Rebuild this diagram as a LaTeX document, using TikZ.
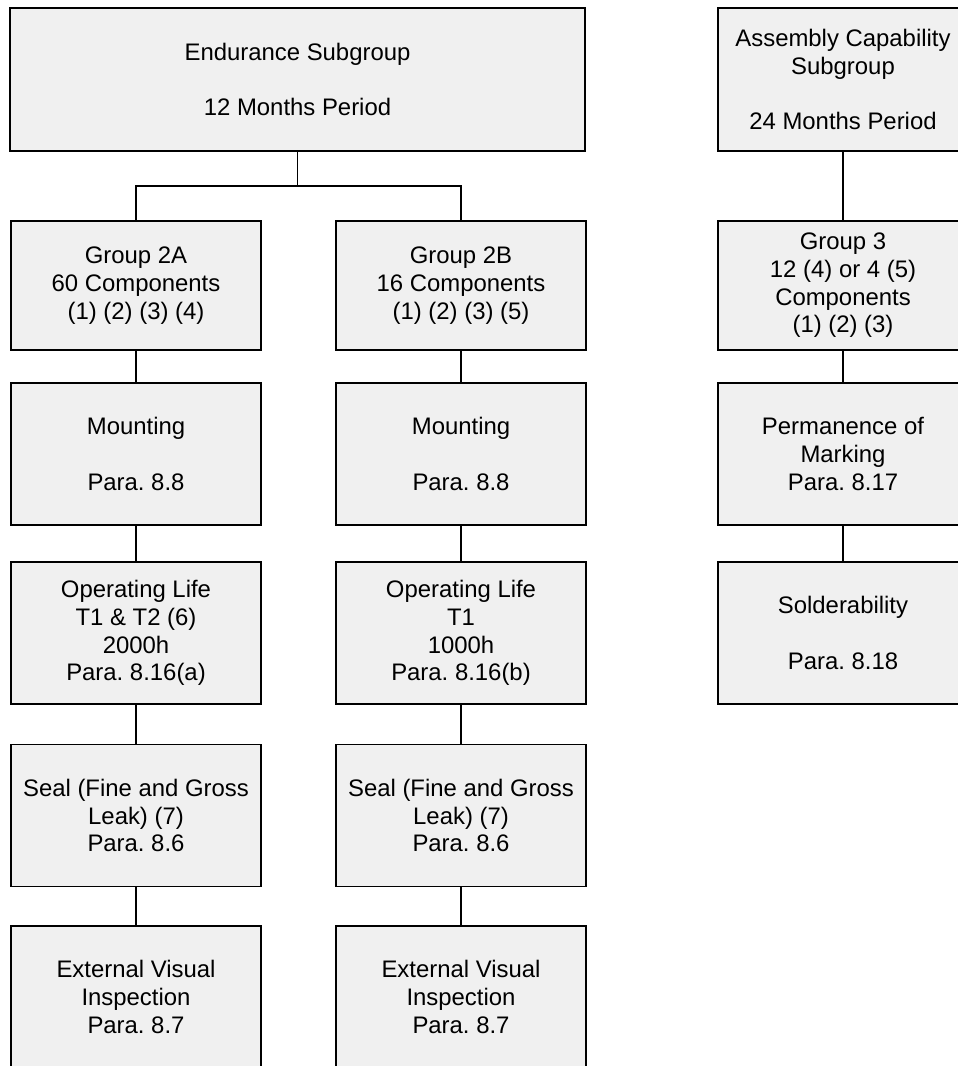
\documentclass[tikz,border=0pt]{standalone}
\usepackage{fontspec}
\setmainfont{Liberation Sans}
\frenchspacing
\definecolor{boxfill}{RGB}{240,240,240}

\begin{document}
\begin{tikzpicture}[x=2.5cm, y=-2.5cm,
  box/.style={draw, line width=1.3pt, fill=boxfill, align=center, inner sep=0pt,
    minimum width=6.25cm, minimum height=3.55cm, font=\fontsize{17}{19.7}\selectfont},
  grp/.style={box, minimum height=3.225cm},
  link/.style={line width=1.3pt}]
\useasboundingbox (0,0) rectangle (9.57,10.66);
% Subgroups
\node[box, minimum width=14.375cm, minimum height=3.575cm] (endu) at (2.975,0.795)
  {Endurance Subgroup\\[19.7pt]12 Months Period};
\node[box, minimum height=3.575cm] (assy) at (8.43,0.795)
  {Assembly Capability\\Subgroup\\[19.7pt]24 Months Period};
% Groups
\node[grp] (g2a) at (1.36,2.855) {Group 2A\\60 Components\\(1) (2) (3) (4)};
\node[grp] (g2b) at (4.61,2.855) {Group 2B\\16 Components\\(1) (2) (3) (5)};
\node[grp] (g3) at (8.43,2.855) {Group 3\\12 (4) or 4 (5)\\Components\\(1) (2) (3)};
% Group 2A tests
\node[box] (mnta) at (1.36,4.54) {Mounting\\[19.7pt]Para. 8.8};
\node[box] (lifea) at (1.36,6.33) {Operating Life\\T1 \& T2 (6)\\2000h\\Para. 8.16(a)};
\node[box] (seala) at (1.36,8.155) {Seal (Fine and Gross\\Leak) (7)\\Para. 8.6};
\node[box] (visa) at (1.36,9.97) {External Visual\\Inspection\\Para. 8.7};
% Group 2B tests
\node[box] (mntb) at (4.61,4.54) {Mounting\\[19.7pt]Para. 8.8};
\node[box] (lifeb) at (4.61,6.33) {Operating Life\\T1\\1000h\\Para. 8.16(b)};
\node[box] (sealb) at (4.61,8.155) {Seal (Fine and Gross\\Leak) (7)\\Para. 8.6};
\node[box] (visb) at (4.61,9.97) {External Visual\\Inspection\\Para. 8.7};
% Group 3 tests
\node[box] (perm) at (8.43,4.54) {Permanence of\\Marking\\Para. 8.17};
\node[box] (sold) at (8.43,6.33) {Solderability\\[19.7pt]Para. 8.18};
% Links
\coordinate (split) at (2.975,1.86);
\draw[link] (endu.south) -- (split);
\draw[link] (g2a.north) |- (split) -| (g2b.north);
\foreach \a/\b in {g2a/mnta, mnta/lifea, lifea/seala, seala/visa,
                   g2b/mntb, mntb/lifeb, lifeb/sealb, sealb/visb,
                   assy/g3, g3/perm, perm/sold}
  \draw[link] (\a.south) -- (\b.north);
\end{tikzpicture}
\end{document}
